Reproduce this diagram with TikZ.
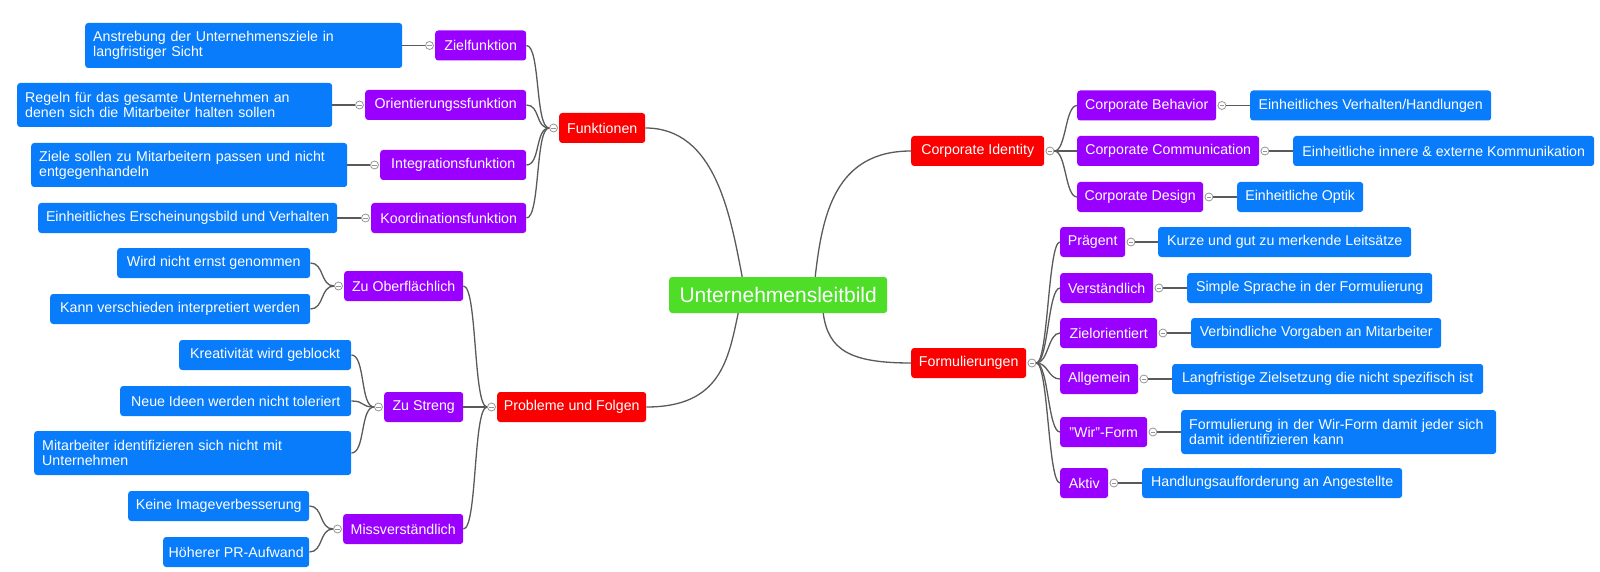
\documentclass[tikz,border=0pt]{standalone}
\usepackage{fontspec}
\setmainfont{Liberation Sans}
\definecolor{cblue}{RGB}{8,124,250}
\definecolor{cpurple}{RGB}{153,0,255}
\definecolor{cred}{RGB}{250,0,0}
\definecolor{cgreen}{RGB}{78,222,40}
\definecolor{cline}{RGB}{90,90,90}
\definecolor{ctog}{RGB}{150,150,150}
\tikzset{
  mmbase/.style={rounded corners=3pt, text=white, inner xsep=0pt, inner ysep=0pt, anchor=west,
    minimum height=30pt, font=\fontsize{14.2}{15}\selectfont, align=left},
  mmleaf/.style={mmbase, fill=cblue},
  mmmid/.style={mmbase, fill=cpurple},
  mmtop/.style={mmbase, fill=cred},
  twoline/.style={inner xsep=8pt, text width=#1, minimum height=44pt},
  con/.style={draw=cline, line width=1.3pt},
  tog/.style={circle, draw=ctog, fill=white, line width=0.8pt, minimum size=8pt, inner sep=0pt,
    path picture={\draw[ctog, line width=0.8pt] ([xshift=-2.2pt]path picture bounding box.center) -- ([xshift=2.2pt]path picture bounding box.center);}},
}
\begin{document}
\begin{tikzpicture}[x=1pt,y=-1pt]
\useasboundingbox[fill=white] (0,0) rectangle (1600,572);

% root
\node[mmbase, fill=cgreen, minimum width=218pt, minimum height=36pt, font=\fontsize{21}{24}\selectfont, align=center] (root) at (669,295) {Unternehmensleitbild};

% Funktionen branch
\node[mmtop, minimum width=86pt] (funk) at (559,128) {Funktionen};
\node[mmmid, minimum width=91pt] (zielf) at (435,45.5) {Zielfunktion};
\node[mmmid, minimum width=161pt] (orient) at (365,105) {Orientierungssfunktion};
\node[mmmid, minimum width=146pt] (integ) at (380,165) {Integrationsfunktion};
\node[mmmid, minimum width=155pt] (koord) at (371,218) {Koordinationsfunktion};
\node[mmleaf, twoline=301pt, minimum height=45pt] (anst) at (85,45.5) {Anstrebung der Unternehmensziele in\\langfristiger Sicht};
\node[mmleaf, twoline=299pt] (regeln) at (17,105) {Regeln für das gesamte Unternehmen an\\denen sich die Mitarbeiter halten sollen};
\node[mmleaf, twoline=300pt] (ziele) at (31,165) {Ziele sollen zu Mitarbeitern passen und nicht\\entgegenhandeln};
\node[mmleaf, minimum width=299pt] (einh) at (38,218) {Einheitliches Erscheinungsbild und Verhalten};

% Probleme branch
\node[mmtop, minimum width=149pt] (prob) at (497,407) {Probleme und Folgen};
\node[mmmid, minimum width=119pt] (zuob) at (344,286) {Zu Oberflächlich};
\node[mmmid, minimum width=79pt] (zust) at (384,407) {Zu Streng};
\node[mmmid, minimum width=120pt] (miss) at (343,529) {Missverständlich};
\node[mmleaf, minimum width=193pt] (wird) at (117,263) {Wird nicht ernst genommen};
\node[mmleaf, minimum width=260pt] (kann) at (50,309) {Kann verschieden interpretiert werden};
\node[mmleaf, minimum width=172pt] (krea) at (179,355) {Kreativität wird geblockt};
\node[mmleaf, minimum width=231pt] (neue) at (120,401) {Neue Ideen werden nicht toleriert};
\node[mmleaf, twoline=301pt] (mita) at (34,453) {Mitarbeiter identifizieren sich nicht mit\\Unternehmen};
\node[mmleaf, minimum width=181pt] (keine) at (128,506) {Keine Imageverbesserung};
\node[mmleaf, minimum width=146pt] (hoeh) at (163,552) {Höherer PR-Aufwand};

% Corporate Identity branch
\node[mmtop, minimum width=133pt] (ci) at (911,151) {Corporate Identity};
\node[mmmid, minimum width=139pt] (cb) at (1077,105.5) {Corporate Behavior};
\node[mmmid, minimum width=182pt] (cc) at (1077,151) {Corporate Communication};
\node[mmmid, minimum width=126pt] (cd) at (1077,197) {Corporate Design};
\node[mmleaf, minimum width=241pt] (ev) at (1250,105.5) {Einheitliches Verhalten/Handlungen};
\node[mmleaf, minimum width=301pt] (eik) at (1293,151) {Einheitliche innere \& externe Kommunikation};
\node[mmleaf, minimum width=126pt] (eo) at (1237,197) {Einheitliche Optik};

% Formulierungen branch
\node[mmtop, minimum width=115pt] (form) at (911,363) {Formulierungen};
\node[mmmid, minimum width=65pt] (praeg) at (1060,242) {Prägent};
\node[mmmid, minimum width=93pt] (verst) at (1060,288) {Verständlich};
\node[mmmid, minimum width=97pt] (zielo) at (1060,333) {Zielorientiert};
\node[mmmid, minimum width=78pt] (allg) at (1060,379) {Allgemein};
\node[mmmid, minimum width=87pt] (wir) at (1060,432) {"Wir"-Form};
\node[mmmid, minimum width=48pt] (aktiv) at (1060,483) {Aktiv};
\node[mmleaf, minimum width=253pt] (kurze) at (1158,242) {Kurze und gut zu merkende Leitsätze};
\node[mmleaf, minimum width=245pt] (simple) at (1187,288) {Simple Sprache in der Formulierung};
\node[mmleaf, minimum width=250pt] (verb) at (1191,333) {Verbindliche Vorgaben an Mitarbeiter};
\node[mmleaf, minimum width=311pt] (lang) at (1172,379) {Langfristige Zielsetzung die nicht spezifisch ist};
\node[mmleaf, twoline=299pt] (formwir) at (1181,432) {Formulierung in der Wir-Form damit jeder sich\\damit identifizieren kann};
\node[mmleaf, minimum width=260pt] (handl) at (1142,483) {Handlungsaufforderung an Angestellte};

% toggles (left side: on west, right side: on east)
\foreach \n in {funk,zielf,orient,integ,koord,prob,zuob,zust,miss}
  \node[tog] (t-\n) at ([xshift=-5.5pt]\n.west) {};
\foreach \n in {ci,cb,cc,cd,form,praeg,verst,zielo,allg,wir,aktiv}
  \node[tog] (t-\n) at ([xshift=5.5pt]\n.east) {};

% connectors: root to main branches
\draw[con] (funk.east) .. controls +(70,0) and +(-12,-62) .. ([xshift=-36pt]root.north);
\draw[con] ([xshift=37pt]root.north) .. controls +(7,-62) and +(-76,0) .. (ci.west);
\draw[con] ([xshift=45pt]root.south) .. controls +(5,37) and +(-61,0) .. (form.west);
\draw[con] ([xshift=-40pt]root.south) .. controls +(-10,47) and +(74,0) .. (prob.east);

% Funktionen
\foreach \c in {zielf,orient,integ,koord}
  \draw[con] (\c.east) .. controls +(14,0) and +(-14,0) .. (t-funk.west);
\draw[con] (anst.east) -- (t-zielf.west);
\draw[con] (regeln.east) -- (t-orient.west);
\draw[con] (ziele.east) -- (t-integ.west);
\draw[con] (einh.east) -- (t-koord.west);

% Probleme
\foreach \c in {zuob,zust,miss}
  \draw[con] (\c.east) .. controls +(14,0) and +(-14,0) .. (t-prob.west);
\foreach \c in {wird,kann}
  \draw[con] (\c.east) .. controls +(14,0) and +(-14,0) .. (t-zuob.west);
\foreach \c in {krea,neue,mita}
  \draw[con] (\c.east) .. controls +(14,0) and +(-14,0) .. (t-zust.west);
\foreach \c in {keine,hoeh}
  \draw[con] (\c.east) .. controls +(14,0) and +(-14,0) .. (t-miss.west);

% Corporate Identity
\foreach \c in {cb,cc,cd}
  \draw[con] (t-ci.east) .. controls +(12,0) and +(-12,0) .. (\c.west);
\draw[con] (t-cb.east) -- (ev.west);
\draw[con] (t-cc.east) -- (eik.west);
\draw[con] (t-cd.east) -- (eo.west);

% Formulierungen
\foreach \c in {praeg,verst,zielo,allg,wir,aktiv}
  \draw[con] (t-form.east) .. controls +(12,0) and +(-12,0) .. (\c.west);
\draw[con] (t-praeg.east) -- (kurze.west);
\draw[con] (t-verst.east) -- (simple.west);
\draw[con] (t-zielo.east) -- (verb.west);
\draw[con] (t-allg.east) -- (lang.west);
\draw[con] (t-wir.east) -- (formwir.west);
\draw[con] (t-aktiv.east) -- (handl.west);
\end{tikzpicture}
\end{document}
